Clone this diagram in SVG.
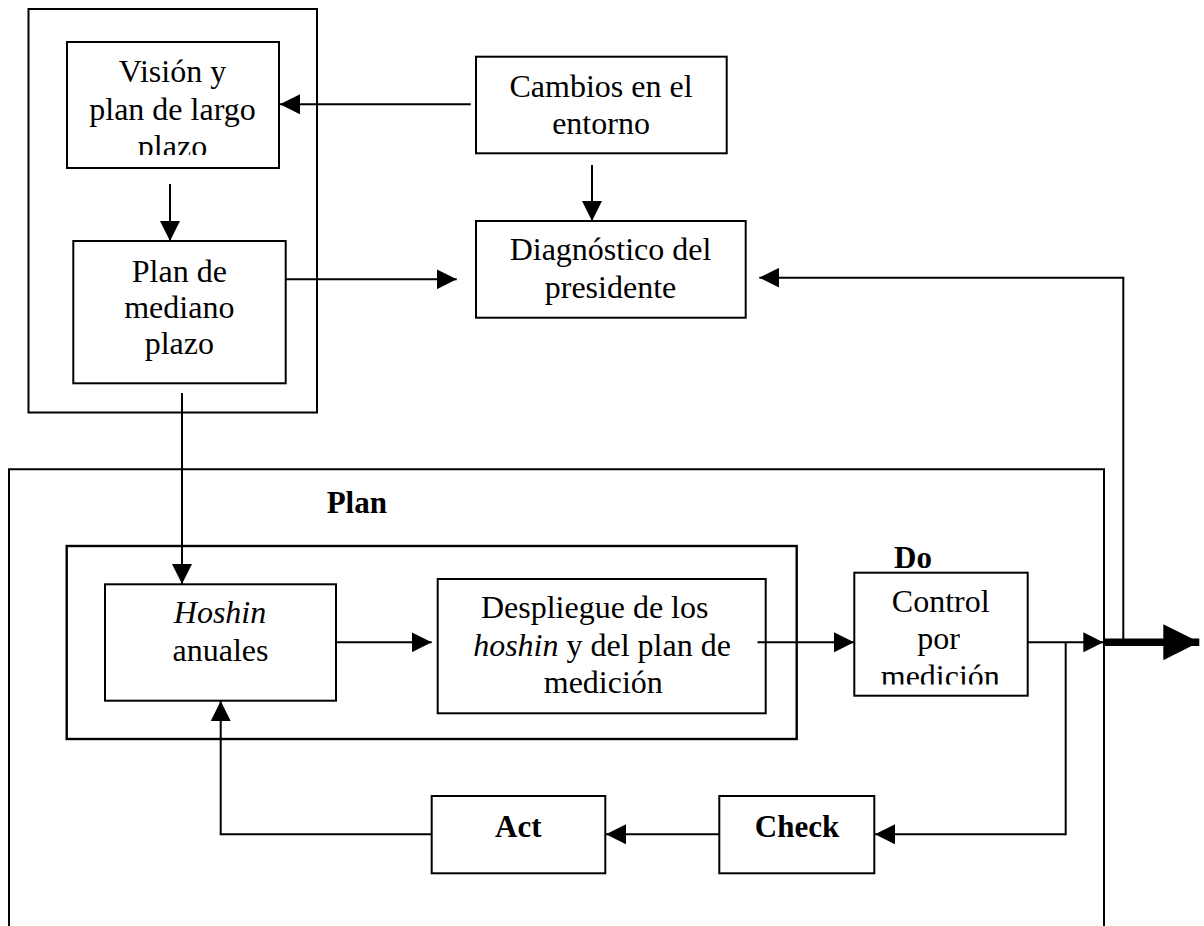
<svg xmlns="http://www.w3.org/2000/svg" width="1204" height="926" viewBox="0 0 1204 926" font-family="'Liberation Serif', 'Times New Roman', Tinos, 'DejaVu Serif', serif">
  <defs>
    <style>
      .box { fill: none; stroke: #000; stroke-width: 2; }
      .conn { fill: none; stroke: #000; stroke-width: 2; }
      .t { font-family: 'Liberation Serif', 'Times New Roman', Tinos, 'DejaVu Serif', serif; font-size: 32px; fill: #000; text-anchor: middle; }
      .b { font-family: 'Liberation Serif', 'Times New Roman', Tinos, 'DejaVu Serif', serif; font-size: 31px; font-weight: bold; fill: #000; }
      .i { font-style: italic; }
    </style>
    <marker id="arr" markerUnits="userSpaceOnUse" markerWidth="20" markerHeight="20" refX="20" refY="10" orient="auto">
      <path d="M0,0 L20,10 L0,20 z" fill="#000"/>
    </marker>
    <marker id="bigarr" markerUnits="userSpaceOnUse" markerWidth="36" markerHeight="36" refX="36" refY="18" orient="auto">
      <path d="M0,0 L36,18 L0,36 z" fill="#000"/>
    </marker>
    <clipPath id="clipVision"><rect x="60" y="40" width="230" height="115"/></clipPath>
    <clipPath id="clipControl"><rect x="850" y="570" width="180" height="114.5"/></clipPath>
  </defs>
  <rect width="1204" height="926" fill="#fff"/>

  <g id="grupo-largo-plazo">
    <rect class="box" x="28.5" y="9" width="288.5" height="403.5"/>
  </g>

  <g id="vision">
    <rect class="box" x="67" y="42" width="212" height="126"/>
    <g clip-path="url(#clipVision)">
      <text class="t" x="172.5" y="81.7">Visión y</text>
      <text class="t" x="172.5" y="119.5">plan de largo</text>
      <text class="t" x="172.5" y="157">plazo</text>
    </g>
  </g>

  <g id="plan-mediano">
    <rect class="box" x="73.3" y="241" width="212.4" height="142.3"/>
    <text class="t" x="179.3" y="281.7">Plan de</text>
    <text class="t" x="179.3" y="318.3">mediano</text>
    <text class="t" x="179.3" y="354">plazo</text>
  </g>

  <g id="cambios">
    <rect class="box" x="476" y="56.7" width="250.7" height="96.6"/>
    <text class="t" x="601" y="97.3">Cambios en el</text>
    <text class="t" x="601" y="133.5">entorno</text>
  </g>

  <g id="diagnostico">
    <rect class="box" x="476" y="221" width="269.7" height="96.7"/>
    <text class="t" x="610.5" y="260">Diagnóstico del</text>
    <text class="t" x="610.5" y="297.5">presidente</text>
  </g>

  <g id="plan-grande">
    <path class="box" d="M9,930 V469.3 H1104 V930"/>
    <text class="b" x="326.7" y="513.3">Plan</text>
  </g>

  <g id="plan-interno">
    <rect class="box" x="66.7" y="546" width="730" height="193" style="stroke-width:2.4"/>
  </g>

  <g id="hoshin">
    <rect class="box" x="105" y="584.3" width="231" height="116.4"/>
    <text class="t i" x="220" y="623.3">Hoshin</text>
    <text class="t" x="220.5" y="661">anuales</text>
  </g>

  <g id="despliegue">
    <rect class="box" x="437.7" y="579" width="328" height="134.3"/>
    <text class="t" x="594.7" y="618.3">Despliegue de los</text>
    <text class="t" x="602" y="655.7"><tspan class="i">hoshin</tspan> y del plan de</text>
    <text class="t" x="603.3" y="692.7">medición</text>
  </g>

  <g id="do">
    <text class="b" x="894" y="568.3">Do</text>
  </g>

  <g id="control">
    <rect class="box" x="854.3" y="572.7" width="173.4" height="123"/>
    <g clip-path="url(#clipControl)">
      <text class="t" x="940.7" y="611.7">Control</text>
      <text class="t" x="938.5" y="649.3">por</text>
      <text class="t" x="940.3" y="686.7">medición</text>
    </g>
  </g>

  <g id="act">
    <rect class="box" x="431.7" y="796" width="173.6" height="77.3"/>
    <text class="b" x="518.3" y="836.7" text-anchor="middle">Act</text>
  </g>

  <g id="check">
    <rect class="box" x="719.3" y="796" width="155" height="77.3"/>
    <text class="b" x="797" y="836.7" text-anchor="middle">Check</text>
  </g>

  <g id="connectors">
    <line class="conn" x1="470.7" y1="104.3" x2="280" y2="104.3" marker-end="url(#arr)"/>
    <line class="conn" x1="170" y1="184" x2="170" y2="241" marker-end="url(#arr)"/>
    <line class="conn" x1="592" y1="165" x2="592" y2="221" marker-end="url(#arr)"/>
    <line class="conn" x1="285.7" y1="279.3" x2="456.7" y2="279.3" marker-end="url(#arr)"/>
    <polyline class="conn" points="1123.3,642 1123.3,277.7 759.3,277.7" marker-end="url(#arr)"/>
    <line class="conn" x1="182" y1="393" x2="182" y2="584" marker-end="url(#arr)"/>
    <line class="conn" x1="336" y1="642.3" x2="431.7" y2="642.3" marker-end="url(#arr)"/>
    <line class="conn" x1="757.5" y1="642.3" x2="854" y2="642.3" marker-end="url(#arr)"/>
    <line class="conn" x1="1027.7" y1="642.3" x2="1103.3" y2="642.3" marker-end="url(#arr)"/>
    <line x1="1104" y1="642.2" x2="1199.3" y2="642.2" stroke="#000" stroke-width="7.5" marker-end="url(#bigarr)"/>
    <polyline class="conn" points="1065.7,642.3 1065.7,834.3 875,834.3" marker-end="url(#arr)"/>
    <line class="conn" x1="719.3" y1="834.3" x2="606" y2="834.3" marker-end="url(#arr)"/>
    <polyline class="conn" points="431.7,834.3 220.7,834.3 220.7,701" marker-end="url(#arr)"/>
  </g>
</svg>
